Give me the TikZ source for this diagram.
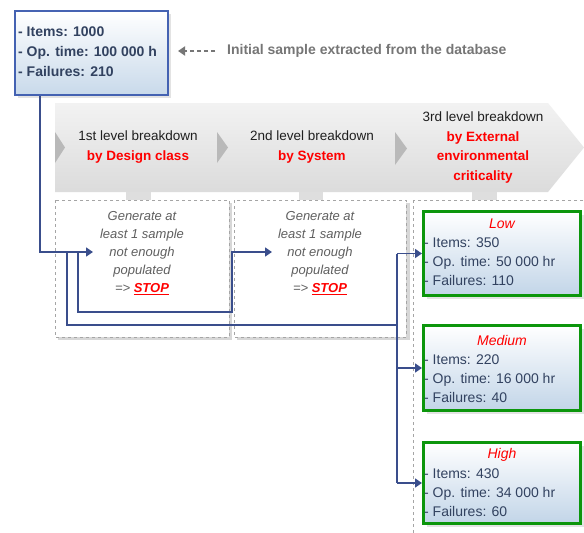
\documentclass[tikz,border=0pt]{standalone}
\usepackage{fontspec}
\setmainfont{Liberation Sans}
\usetikzlibrary{arrows.meta,shadows}
\definecolor{connc}{RGB}{58,78,140}
\definecolor{topborder}{RGB}{68,98,178}
\definecolor{boxtxt}{RGB}{50,66,96}
\definecolor{grn}{RGB}{12,150,12}
\definecolor{lightblue}{RGB}{194,213,232}
\definecolor{redtxt}{RGB}{255,0,0}
\definecolor{graytxt}{RGB}{96,96,96}
\definecolor{inittxt}{RGB}{118,118,118}
\definecolor{dashgray}{RGB}{165,165,165}
\definecolor{chev}{RGB}{185,185,185}
\definecolor{tabc}{RGB}{222,222,222}
\definecolor{shadowc}{RGB}{215,215,215}
\newcommand\rb[1]{\textcolor{redtxt}{\bfseries #1}}
\newcommand\stopword{\textcolor{redtxt}{\bfseries\underline{STOP}}}
\begin{document}
\begin{tikzpicture}[x=1pt,y=-1pt,
  connline/.style={draw=connc, line width=1.5pt},
  arr/.style={connline, -{Triangle[length=7pt,width=9pt]}},
  levelbox/.style={draw=dashgray, dashed, line width=0.6pt, fill=white},
  levelshadow/.style={fill=shadowc, draw=none},
  resbox/.style={draw=grn, line width=3pt, top color=white, bottom color=lightblue,
    minimum width=157pt, inner sep=0pt,
    drop shadow={shadow xshift=3pt, shadow yshift=-3pt, fill=gray, opacity=0.22}},
  restitle/.style={font=\fontsize{14}{17}\selectfont\itshape, text=redtxt, inner sep=0pt},
  restext/.style={font=\fontsize{14}{19}\selectfont, text=boxtxt, align=left, anchor=west, inner sep=0pt},
  bannertext/.style={font=\fontsize{13.5}{20}\selectfont, text=black!88, align=center, inner sep=0pt},
  gentext/.style={font=\fontsize{13}{18}\selectfont\itshape, text=graytxt, align=center, inner sep=0pt},
  chevron/.style={fill=chev, draw=none},
  tabstyle/.style={fill=tabc, draw=none}
]
\clip (0,0) rectangle (584,533);
\fill[white] (0,0) rectangle (584,533);

% banner
\shade[top color=black!5, bottom color=black!14]
  (55,103) -- (548,103) -- (584,147.5) -- (548,192) -- (55,192) -- cycle;
\fill[chevron] (55,132) -- (65,147.5) -- (55,163) -- cycle;
\fill[chevron] (217,132) -- (228,147.5) -- (217,163) -- cycle;
\fill[chevron] (395,132) -- (407,148.5) -- (395,165) -- cycle;
\fill[tabstyle] (126,192) rectangle (151,200);
\fill[tabstyle] (299,192) rectangle (323,200);
\fill[tabstyle] (472,192) rectangle (497,200);

\node[bannertext] (lvl1) at (138,147) {1st level breakdown\\\rb{by Design class}};
\node[bannertext, font=\fontsize{13.5}{19.7}\selectfont] (lvl2) at (312,147) {2nd level breakdown\\\rb{by System}};
\node[bannertext, font=\fontsize{13.5}{19.7}\selectfont] (lvl3) at (483,147.5) {3rd level breakdown\\\rb{by External}\\\rb{environmental}\\\rb{criticality}};

% dashed level boxes
\fill[levelshadow] (58,203) rectangle (232,340);
\draw[levelbox] (55,200) rectangle (229,337);
\fill[levelshadow] (237,203) rectangle (410,340);
\draw[levelbox] (234,200) rectangle (406,337);
\fill[levelshadow] (416,203) rectangle (600,560);
\draw[levelbox] (413,200) rectangle (597,557);

\node[gentext] (gen1) at (142,253.5) {Generate at\\least 1 sample\\not enough\\populated\\=> \stopword};
\node[gentext] (gen2) at (320,253.5) {Generate at\\least 1 sample\\not enough\\populated\\=> \stopword};

% top box
\node[draw=topborder, line width=2pt, top color=white, bottom color=lightblue!90,
  minimum width=153pt, minimum height=84pt, inner sep=0pt,
  drop shadow={shadow xshift=3pt, shadow yshift=-3pt, fill=gray, opacity=0.22}]
  (top) at (91.5,53) {};
\node[font=\fontsize{14}{20}\selectfont\bfseries, text=boxtxt, align=left, anchor=west, inner sep=0pt]
  (toptext) at (18,52) {- Items: 1000\\- Op. time: 100 000 h\\- Failures: 210};

% initial sample label and dashed arrow
\node[font=\fontsize{14}{16}\selectfont\bfseries, text=inittxt, anchor=west, inner sep=0pt]
  (init) at (227,51) {Initial sample extracted from the database};
\draw[draw=inittxt, line width=2.2pt, dash pattern=on 4pt off 3pt,
  -{Triangle[length=7pt,width=9pt]}, shorten <=12pt, shorten >=9pt]
  (init.west) -- (init.west -| top.east);

% result boxes
\node[resbox, minimum height=84pt] (low) at (502,253.5) {};
\node[resbox, minimum height=85pt] (med) at (502,368) {};
\node[resbox, minimum height=81pt] (high) at (502,483) {};

\node[restitle] (lowt) at (502,224) {Low};
\node[restext] (lowl) at (424,262) {- Items: 350\\- Op. time: 50 000 hr\\- Failures: 110};
\node[restitle] (medt) at (502,340) {Medium};
\node[restext] (medl) at (424,378.5) {- Items: 220\\- Op. time: 16 000 hr\\- Failures: 40};
\node[restitle] (hight) at (502,455) {High};
\node[restext] (highl) at (424,493) {- Items: 430\\- Op. time: 34 000 hr\\- Failures: 60};

% connectors
\coordinate (j0) at (40,252);
\coordinate (in1) at (93,252);
\coordinate (jA) at (67,252);
\coordinate (jA2) at (67,325);
\coordinate (jB) at (78,252);
\coordinate (jB2) at (78,312);
\coordinate (jC) at (232,312);
\coordinate (jC2) at (232,252);
\coordinate (in2) at (272,252);
\coordinate (v1) at (397,253.5);
\coordinate (vm) at (397,325);
\coordinate (v3) at (397,483);

\draw[arr] (top.south -| j0) -- (j0) -- (in1);
\draw[connline] (jA) -- (jA2) -- (vm);
\draw[arr] (jB) -- (jB2) -- (jC) -- (jC2) -- (in2);
\draw[connline] (v1) -- (v3);
\draw[arr] (v1) -- (low.west);
\draw[arr] (v1 |- med.west) -- (med.west);
\draw[arr] (v3) -- (high.west);
\end{tikzpicture}
\end{document}
